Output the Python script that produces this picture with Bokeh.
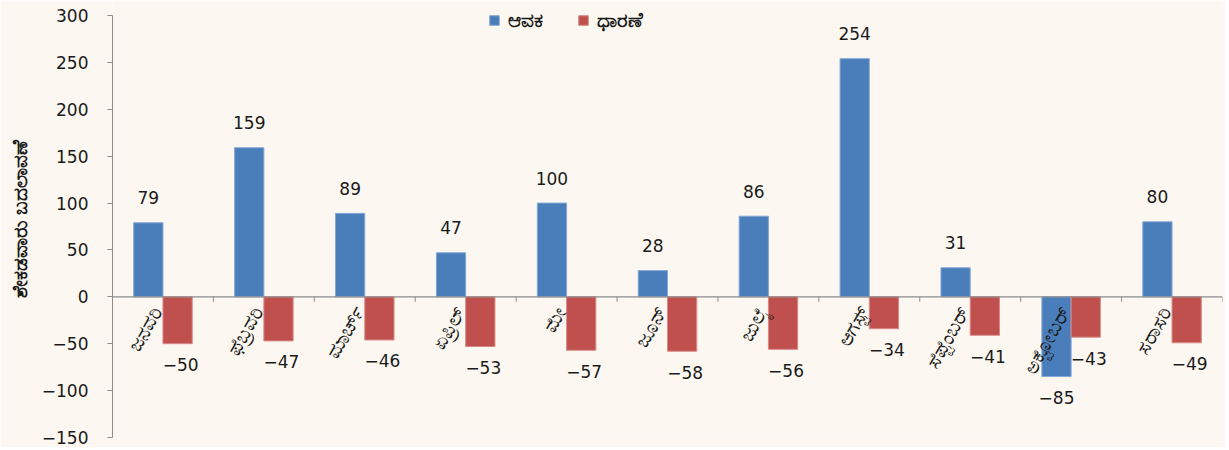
import math
from bokeh.plotting import figure
from bokeh.models import ColumnDataSource, FixedTicker, Legend, LegendItem, Span
from bokeh.core.properties import value
from bokeh.embed import file_html
from bokeh.resources import INLINE

months = ["ಜನವರಿ", "ಫೆಬ್ರವರಿ", "ಮಾರ್ಚ್", "ಏಪ್ರಿಲ್", "ಮೇ", "ಜೂನ್", "ಜುಲೈ",
          "ಆಗಸ್ಟ್", "ಸೆಪ್ಟೆಂಬರ್", "ಅಕ್ಟೋಬರ್", "ಸರಾಸರಿ"]
arrivals = [79, 159, 89, 47, 100, 28, 86, 254, 31, -85, 80]
prices = [-50, -47, -46, -53, -57, -58, -56, -34, -41, -43, -49]
series_names = ["ಆವಕ", "ಧಾರಣೆ"]
y_label = "ಶೇಕಡವಾರು ಬದಲಾವಣೆ"
y_ticks = [-150, -100, -50, 0, 50, 100, 150, 200, 250, 300]

BLUE = "#4A7EBB"
RED = "#C0504D"
BG = "#FCF8F1"
AXIS = "#8C8C8C"
FONT = "DejaVu Sans"

n = len(months)
centers = [i + 0.5 for i in range(n)]
bw = 0.29
blue_x = [c - bw / 2 for c in centers]
red_x = [c + bw / 2 for c in centers]

def fmt(v):
    return ("−" + str(abs(v))) if v < 0 else str(v)

y_lo, y_hi = min(y_ticks), max(y_ticks)
# extra headroom above the top tick so the legend fits inside the frame
head = 16

p = figure(width=1225, height=447, output_backend="svg", toolbar_location=None,
           x_range=(0, n), y_range=(y_lo, y_hi + head), x_axis_location=None,
           min_border_left=112, min_border_right=3, min_border_top=0, min_border_bottom=10,
           background_fill_color=BG, border_fill_color=BG)
p.outline_line_color = None
p.grid.visible = False

# y axis
yax = p.yaxis[0]
yax.bounds = (y_lo, y_hi)
yax.ticker = FixedTicker(ticks=y_ticks)
yax.major_label_overrides = {t: fmt(t) for t in y_ticks}
yax.minor_tick_line_color = None
yax.major_tick_in = 0
yax.major_tick_out = 5
yax.axis_line_color = AXIS
yax.major_tick_line_color = AXIS
yax.major_label_text_font = FONT
yax.major_label_text_font_size = "17px"
yax.major_label_text_color = "#1a1a1a"
yax.major_label_standoff = 19
yax.axis_label = y_label
yax.axis_label_text_font = "Noto Sans"
yax.axis_label_text_font_style = "bold"
yax.axis_label_text_font_size = "20px"
yax.axis_label_text_color = "#1a1a1a"
yax.axis_label_standoff = 6

# bars
src_b = ColumnDataSource(dict(x=blue_x, top=arrivals, lab=[fmt(v) for v in arrivals],
                              off=[-25 if v >= 0 else 21 for v in arrivals]))
src_r = ColumnDataSource(dict(x=red_x, top=prices, lab=[fmt(v) for v in prices],
                              off=[-25 if v >= 0 else 21 for v in prices]))
rb = p.vbar(x="x", top="top", bottom=0, width=bw, source=src_b,
            fill_color=BLUE, line_color="#86A8D6", line_width=1)
rr = p.vbar(x="x", top="top", bottom=0, width=bw, source=src_r,
            fill_color=RED, line_color="#D88A88", line_width=1)

# zero axis line and category ticks
p.add_layout(Span(location=0, dimension="width", line_color=AXIS, line_width=1.2))
p.ray(x=list(range(n + 1)), y=[0] * (n + 1), length=5, length_units="screen",
      angle=-math.pi / 2, line_color=AXIS, line_width=1)

# value labels
p.text(x="x", y="top", text="lab", source=src_b, y_offset="off",
       text_align="center", text_baseline="middle", text_font=value(FONT),
       text_font_size="17px", text_color="#1a1a1a")
p.text(x="x", y="top", text="lab", source=src_r, y_offset="off", x_offset=3,
       text_align="center", text_baseline="middle", text_font=value(FONT),
       text_font_size="17px", text_color="#1a1a1a")

# category labels (rotated)
src_c = ColumnDataSource(dict(x=centers, y=[0] * n, lab=months))
p.text(x="x", y="y", text="lab", source=src_c, angle=math.pi / 3,
       x_offset=-6, y_offset=11, text_align="right", text_baseline="middle",
       text_font=value("Noto Sans"), text_font_size="20px", text_color="#1a1a1a")

legend = Legend(items=[LegendItem(label=series_names[0], renderers=[rb]),
                       LegendItem(label=series_names[1], renderers=[rr])],
                location=(376, 404), orientation="horizontal",
                background_fill_alpha=0, border_line_color=None,
                padding=0, margin=0, spacing=34, label_standoff=8,
                glyph_width=12, glyph_height=12,
                label_text_font="Noto Sans", label_text_font_style="bold",
                label_text_font_size="20px", label_text_color="#1a1a1a")
p.add_layout(legend, "center")

open("out.html", "w").write(file_html(p, INLINE))
